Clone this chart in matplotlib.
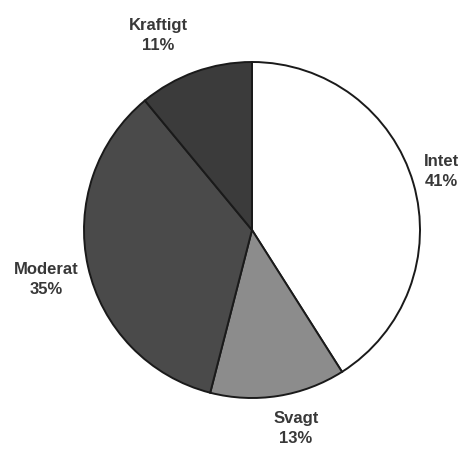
import numpy as np
import matplotlib
matplotlib.use('Agg')
from matplotlib import pyplot as plt

# data
labels = ['Intet', 'Svagt', 'Moderat', 'Kraftigt']
shares = [41, 13, 35, 11]
colors = ['#ffffff', '#8c8c8c', '#4a4a4a', '#3b3b3b']
# label placement: distance from centre (in radii) and nudge off the mid angle
label_dist = [1.18, 1.21, 1.26, 1.285]
label_nudge = [1, 3.5, 1, 6]

plt.rcParams['font.family'] = ['Liberation Sans', 'DejaVu Sans']

fig = plt.figure(figsize=(4.61, 4.5), dpi=100)
ax = fig.add_axes([0, 0, 1, 1])

wedges, _ = ax.pie(shares, colors=colors, startangle=90, counterclock=False,
                   radius=1, center=(0, 0),
                   wedgeprops=dict(edgecolor='#1a1a1a', linewidth=1.4))

# labels placed from each wedge's mid angle
for w, lab, val, d, nd in zip(wedges, labels, shares, label_dist, label_nudge):
    mid = np.deg2rad((w.theta1 + w.theta2) / 2 + nd)
    ax.text(d * np.cos(mid), d * np.sin(mid), '%s\n%d%%' % (lab, val),
            ha='center', va='center', fontsize=12, fontweight='bold',
            color='#383838', linespacing=1.45)

# pixel-ish framing: centre at (252, 230), radius 168 px
ax.set_xlim(-252 / 168, (461 - 252) / 168)
ax.set_ylim(-(450 - 230) / 168, 230 / 168)
ax.set_aspect('equal')
ax.axis('off')

fig.savefig('out.png', dpi=100)
